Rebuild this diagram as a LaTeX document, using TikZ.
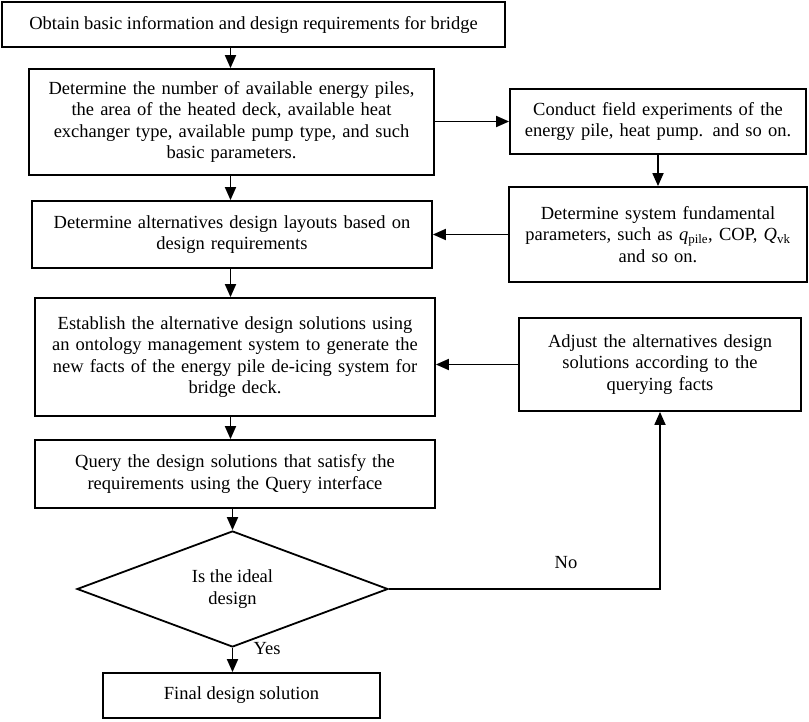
\documentclass[tikz,border=0pt]{standalone}
\usepackage{fontspec}
\setmainfont{Liberation Serif}
\usetikzlibrary{arrows.meta,shapes.geometric}
\begin{document}
\begin{tikzpicture}[x=1pt,y=-1pt,
  txt/.style={font=\fontsize{18.5}{21.5}\selectfont},
  box/.style={draw,line width=1.8pt,rectangle,inner sep=2pt,align=center,txt},
  arr/.style={line width=1.8pt,-{Triangle[length=13pt,width=11pt]}}]
\useasboundingbox (0,0) rectangle (809,722);
\coordinate (ax) at (230.5,0);
\node[box,minimum width=503pt,minimum height=45pt] (b1) at (253.5,24.5) {Obtain basic information and design requirements for bridge};
\node[box,minimum width=405pt,minimum height=106pt,text width=395pt] (b2) at (231.5,122) {Determine the number of available energy piles,\\ the area of the heated deck, available heat\\ exchanger type, available pump type, and such\\ basic parameters.};
\node[box,minimum width=400pt,minimum height=67pt,text width=390pt] (b3) at (232,234.5) {Determine alternatives design layouts based on\\ design requirements};
\node[box,minimum width=400pt,minimum height=118pt,text width=390pt] (b4) at (235,357) {Establish the alternative design solutions using\\ an ontology management system to generate the\\ new facts of the energy pile de-icing system for\\ bridge deck.};
\node[box,minimum width=400pt,minimum height=68pt,text width=390pt] (b5) at (235,474) {Query the design solutions that satisfy the\\ requirements using the Query interface};
\node[draw,line width=1.8pt,diamond,aspect=2.68,minimum width=311pt,minimum height=116pt,inner sep=0pt,align=center,txt] (dia) at (232.5,589) {Is the ideal\\ design};
\node[box,minimum width=277pt,minimum height=45pt] (fin) at (241.5,695.5) {Final design solution};
\node[box,minimum width=296pt,minimum height=65pt,text width=288pt] (r1) at (658,121.5) {Conduct field experiments of the\\ energy pile, heat pump. and so on.};
\node[box,minimum width=298pt,minimum height=95pt,text width=288pt] (r2) at (658,234.5) {Determine system fundamental\\ parameters, such as \textit{q}\textsubscript{pile}, COP, \textit{Q}\textsubscript{vk}\\ and so on.};
\node[box,minimum width=282pt,minimum height=93pt,text width=275pt] (r3) at (660,364.5) {Adjust the alternatives design\\ solutions according to the\\ querying facts};
\draw[arr] (b1.south -| ax) -- (b2.north -| ax);
\draw[arr] (b2.south -| ax) -- (b3.north -| ax);
\draw[arr] (b3.south -| ax) -- (b4.north -| ax);
\draw[arr] (b4.south -| ax) -- (b5.north -| ax);
\draw[arr] (b5.south -| dia.north) -- (dia.north);
\draw[arr] (dia.south) -- (fin.north -| dia.south);
\draw[arr] (r1.west -| b2.east) -- (r1.west);
\draw[arr] (r1.south) -- (r2.north);
\draw[arr] (r2.west |- b3.east) -- (b3.east);
\draw[arr] (r3.west) -- (r3.west -| b4.east);
\draw[arr] (dia.east) -- (dia.east -| r3.south) -- (r3.south);
\node[txt] (no) at (566,563) {No};
\node[txt] (yes) at (267,649) {Yes};
\end{tikzpicture}
\end{document}
